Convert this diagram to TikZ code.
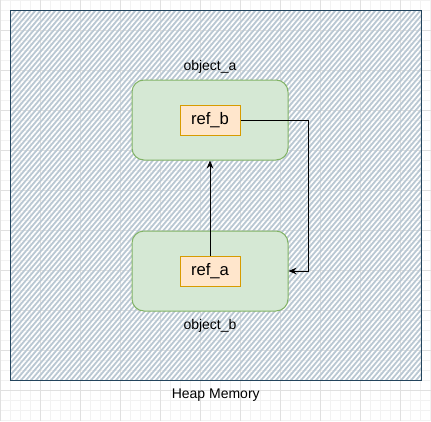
\documentclass[tikz,border=0pt]{standalone}
\usepackage{fontspec}
\setmainfont{Liberation Sans}
\usepackage{tikz}
\usetikzlibrary{arrows.meta,positioning}
\definecolor{heapfill}{HTML}{BAC8D3}
\definecolor{heapline}{HTML}{23445D}
\definecolor{objfill}{HTML}{D5E8D4}
\definecolor{objline}{HTML}{82B366}
\definecolor{reffill}{HTML}{FFE6CC}
\definecolor{refline}{HTML}{D79B00}
\tikzset{
  hatchline/.style={draw=heapfill, line width=1.35pt},
  heap/.style={draw=heapline, line width=0.75pt, minimum width=307.9pt, minimum height=277.5pt,
    path picture={\foreach \i in {0,...,146}
      \draw[hatchline] ([xshift=\i*3.75pt-236pt]path picture bounding box.south west) -- ++(236pt,277.5pt);}},
  obj/.style={draw=objline, fill=objfill, rounded corners=9pt, minimum width=117pt, minimum height=60pt, line width=0.75pt},
  refbox/.style={draw=refline, fill=reffill, minimum width=45pt, minimum height=22.5pt, line width=0.75pt, font=\fontsize{12.5}{14}\selectfont},
  lbl/.style={font=\fontsize{10.5}{12}\selectfont, inner sep=0pt},
  arrow/.style={-{Stealth[length=6pt,width=5pt]}, line width=0.75pt},
  gridminor/.style={draw=black!5, line width=0.5pt},
  gridmajor/.style={draw=black!12, line width=0.75pt}
}

\begin{document}
\begin{tikzpicture}[x=0.75pt, y=-0.75pt]
    \useasboundingbox (0,0) rectangle (431,421);
    % background grid
    \foreach \x in {0,10,...,430} \draw[gridminor] (\x,0) -- (\x,421);
    \foreach \y in {0,10,...,420} \draw[gridminor] (0,\y) -- (431,\y);
    \foreach \x in {0,40,...,400} \draw[gridmajor] (\x,0) -- (\x,421);
    \foreach \y in {30,70,...,390} \draw[gridmajor] (0,\y) -- (431,\y);

    \node[heap] (heap) at (215.75,195.5) {};
    \node[lbl, below=6pt of heap] (heaplabel) {Heap Memory};

    \node[obj] (object_a) at (210,120) {};
    \node[obj, below=52.5pt of object_a] (object_b) {};
    \node[lbl, above=4.5pt of object_a] (label_a) {object\_a};
    \node[lbl, below=6pt of object_b] (label_b) {object\_b};

    \node[refbox] (ref_b) at (object_a) {ref\_b};
    \node[refbox] (ref_a) at (object_b) {ref\_a};

    \draw[arrow] (ref_a) -- (object_a);
    \draw[arrow] (ref_b.east) -- ++(68,0) |- (object_b.east);
  \end{tikzpicture}
\end{document}
